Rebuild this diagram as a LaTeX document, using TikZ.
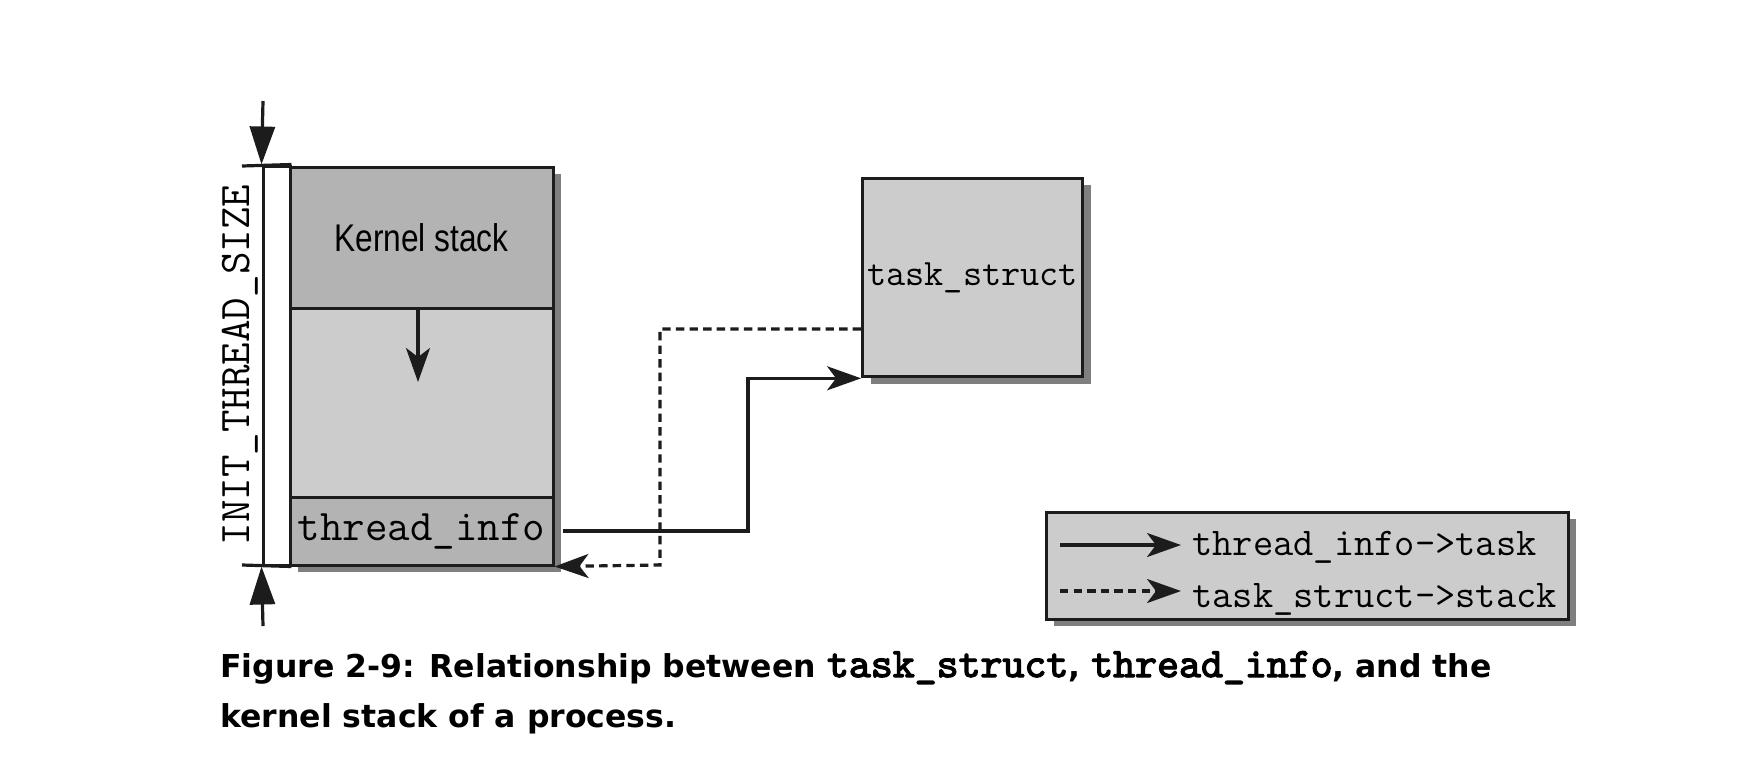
\documentclass[tikz,border=0pt]{standalone}
\usepackage{fontspec}
\setmainfont{Liberation Sans}
\newfontfamily\ksfont[FakeStretch=0.82]{Liberation Sans}
\newfontfamily\capfont{DejaVu Sans}
\newfontfamily\codebold[FakeBold=3]{lmmono10-regular.otf}
\usetikzlibrary{arrows.meta,shadows}
\definecolor{ink}{HTML}{1C1C1C}
\definecolor{darkbox}{HTML}{B3B3B3}
\definecolor{lightbox}{HTML}{CCCCCC}
\definecolor{shadowc}{HTML}{7F7F7F}
\newcommand\capcode[1]{{\codebold\fontsize{20.9pt}{24pt}\selectfont #1}}
\begin{document}
\begin{tikzpicture}[x=0.5pt,y=-0.5pt,
  box/.style={draw=ink,line width=1.5pt,inner sep=0pt,minimum width=131.5pt},
  shad/.style={drop shadow={shadow xshift=4pt,shadow yshift=-3.5pt,fill=shadowc,opacity=1}},
  mono/.style={font=\fontsize{21.85pt}{25pt}\selectfont\ttfamily},
  inkline/.style={draw=ink,line width=1.6pt},
  conn/.style={inkline,-{Stealth[length=17pt,width=12pt,inset=4.5pt]}},
  dimarrow/.style={inkline,-{Triangle[length=19pt,width=12.5pt]}},
  dashline/.style={dash pattern=on 4.2pt off 2.6pt},
  legtext/.style={anchor=base west,inner sep=0pt,font=\fontsize{19.65pt}{23pt}\selectfont\ttfamily},
  captext/.style={anchor=base west,inner sep=0pt,font=\capfont\bfseries\fontsize{15.75pt}{20pt}\selectfont},
]
\useasboundingbox (0,0) rectangle (1744,762);
% dimension bar
\node[draw=ink,line width=1.5pt,fill=white,inner sep=0pt,minimum width=13.5pt,minimum height=199.5pt] (dimbar) at (276.5,365.5) {};
% stack boxes
\node[box,fill=darkbox,shad,minimum height=70.5pt,font=\ksfont\fontsize{19.3pt}{22pt}\selectfont] (ks) at (421.5,237.5) {Kernel stack};
\node[box,fill=lightbox,shad,minimum height=94.5pt] (mid) at (421.5,402.5) {};
\node[box,fill=darkbox,shad,minimum height=34pt,mono] (ti) at (421.5,531) {thread\_info};
% dimension arrows and label
\node[mono,rotate=90,inner sep=0pt] (dimlabel) at (240,365) {INIT\_THREAD\_SIZE};
\coordinate (ta) at (263,101);
\coordinate (ba) at (263,626);
\coordinate (tl) at (242,166);
\coordinate (bl) at (242,565);
\draw[dimarrow] (ta) -- (dimbar.north west);
\draw[dimarrow] (ba) -- (dimbar.south west);
\draw[inkline] (tl) -- (dimbar.north east);
\draw[inkline] (bl) -- (dimbar.south east);
% stack growth arrow
\coordinate (ma) at (418,382);
\draw[conn] (ks.south -| ma) -- (ma);
% task_struct
\node[box,fill=lightbox,shad,minimum width=110pt,minimum height=99.4pt,font=\fontsize{18.6pt}{22pt}\selectfont\ttfamily] (task) at (972.6,277.4) {task\_struct};
% connectors
\coordinate (sj) at (748,531);
\draw[conn] ([xshift=4pt]ti.east) -- (sj) |- (task.south west);
\coordinate (dj) at (660,565);
\draw[conn,dashline] ([yshift=-25.8pt]task.west) -| (dj) -- (ti.south east);
% legend
\node[draw=ink,line width=1.5pt,fill=lightbox,shad,inner sep=0pt,minimum width=261pt,minimum height=53.5pt] (legend) at (1307,565.5) {};
\coordinate (l1a) at (1060,545); \coordinate (l1b) at (1181,545);
\coordinate (l2a) at (1060,591); \coordinate (l2b) at (1181,591);
\draw[conn] (l1a) -- (l1b);
\draw[conn,dashline] (l2a) -- (l2b);
\node[legtext] (lt1) at (1192,555) {thread\_info->task};
\node[legtext] (lt2) at (1192,607) {task\_struct->stack};
% caption
\node[captext] (cap1) at (220,677) {Figure 2-9: Relationship between \capcode{task\_struct}, \capcode{thread\_info}, and the};
\node[captext] (cap2) at (220,727) {kernel stack of a process.};
\end{tikzpicture}
\end{document}
